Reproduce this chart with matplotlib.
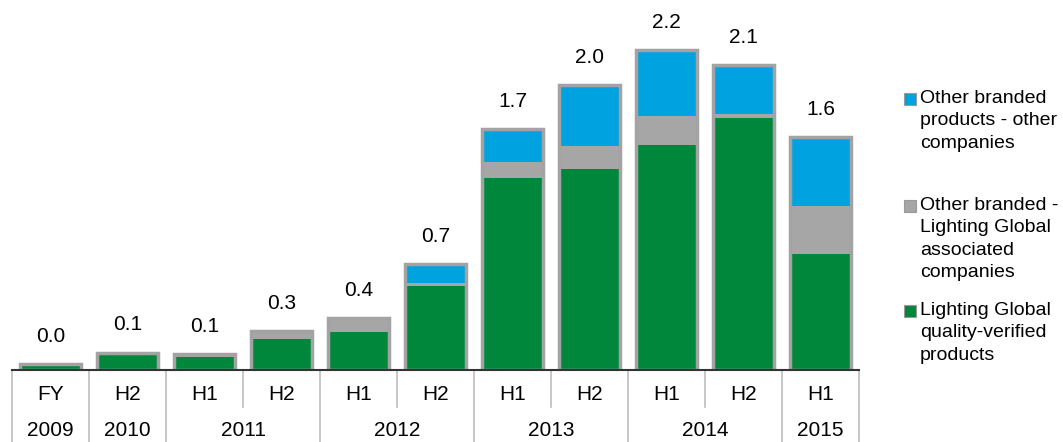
import matplotlib
matplotlib.use("Agg")
import matplotlib.pyplot as plt
from matplotlib.patches import Rectangle
import matplotlib.transforms as mtransforms
import numpy as np

plt.rcParams['font.family'] = ['Liberation Sans', 'DejaVu Sans']

# data (units as in the chart)
halves = ["FY", "H2", "H1", "H2", "H1", "H2", "H1", "H2", "H1", "H2", "H1"]
years = ["2009", "2010", "2011", "2012", "2013", "2014", "2015"]
year_spans = [1, 1, 2, 2, 2, 2, 1]
lg_verified = [0.03, 0.10, 0.09, 0.21, 0.26, 0.58, 1.32, 1.38, 1.55, 1.73, 0.80]
lg_associated = [0.01, 0.02, 0.02, 0.06, 0.10, 0.02, 0.11, 0.16, 0.20, 0.03, 0.33]
other_companies = [0.00, 0.00, 0.00, 0.00, 0.00, 0.13, 0.23, 0.42, 0.45, 0.34, 0.47]

series_names = [
    "Other branded\nproducts - other\ncompanies",
    "Other branded -\nLighting Global\nassociated\ncompanies",
    "Lighting Global\nquality-verified\nproducts",
]
green = "#00873b"
gray = "#a6a6a6"
blue = "#00a2e0"
edge = "#a3a3a3"
sep_color = "#bdbdbd"
fs = 15

fig = plt.figure(figsize=(10.63, 4.42), dpi=100)
ax = fig.add_axes([12 / 1063, 72 / 442, (859 - 12) / 1063, 365 / 442])

x = np.arange(len(halves))
g = np.array(lg_verified)
a = np.array(lg_associated)
o = np.array(other_companies)
totals = g + a + o
w = 0.8

ax.bar(x, g, w, color=green, zorder=2)
ax.bar(x, a, w, bottom=g, color=gray, zorder=2)
ax.bar(x, o, w, bottom=g + a, color=blue, zorder=2)
ax.bar(x, totals, w, fill=False, edgecolor=edge, linewidth=2.5, zorder=3)

for xi, t in zip(x, totals):
    ax.annotate(f"{t:.1f}", (xi, t), xytext=(0, 13), textcoords="offset points",
                ha="center", va="bottom", fontsize=fs)

ax.set_xlim(-0.5, len(halves) - 0.5)
ax.set_ylim(0, 2.51)
ax.set_yticks([])
ax.set_xticks([])
for s in ["top", "left", "right"]:
    ax.spines[s].set_visible(False)
ax.spines["bottom"].set_color("#333333")
ax.spines["bottom"].set_linewidth(1.5)
ax.spines["bottom"].set_zorder(4)

# category table under the axis
trans = mtransforms.blended_transform_factory(ax.transData, ax.transAxes)
row1 = -25 / 365
row2 = -61 / 365
short = -37 / 365
full = -73 / 365
for xi, h in zip(x, halves):
    ax.text(xi, row1, h, transform=trans, ha="center", va="center", fontsize=fs)

start = 0
boundaries = [-0.5]
for yr, span in zip(years, year_spans):
    mid = start + (span - 1) / 2
    ax.text(mid, row2, yr, transform=trans, ha="center", va="center", fontsize=fs)
    for k in range(1, span):
        ax.plot([start + k - 0.5] * 2, [0, short], transform=trans, color=sep_color,
                lw=1.2, clip_on=False)
    start += span
    boundaries.append(start - 0.5)
for b in boundaries:
    ax.plot([b, b], [0, full], transform=trans, color=sep_color, lw=1.2, clip_on=False)

# legend on the right
cap_tops = [90, 197, 302]
legend_colors = [blue, gray, green]
for name, top, c in zip(series_names, cap_tops, legend_colors):
    fig.patches.append(Rectangle((904 / 1063, 1 - (top + 15) / 442), 12 / 1063, 12 / 442,
                                 transform=fig.transFigure, facecolor=c,
                                 edgecolor="#9a9a9a", linewidth=0.8))
    fig.text(920 / 1063, 1 - top / 442, name, ha="left", va="top",
             fontsize=14, linespacing=1.42)

fig.savefig("out.png", dpi=100, facecolor="white")
